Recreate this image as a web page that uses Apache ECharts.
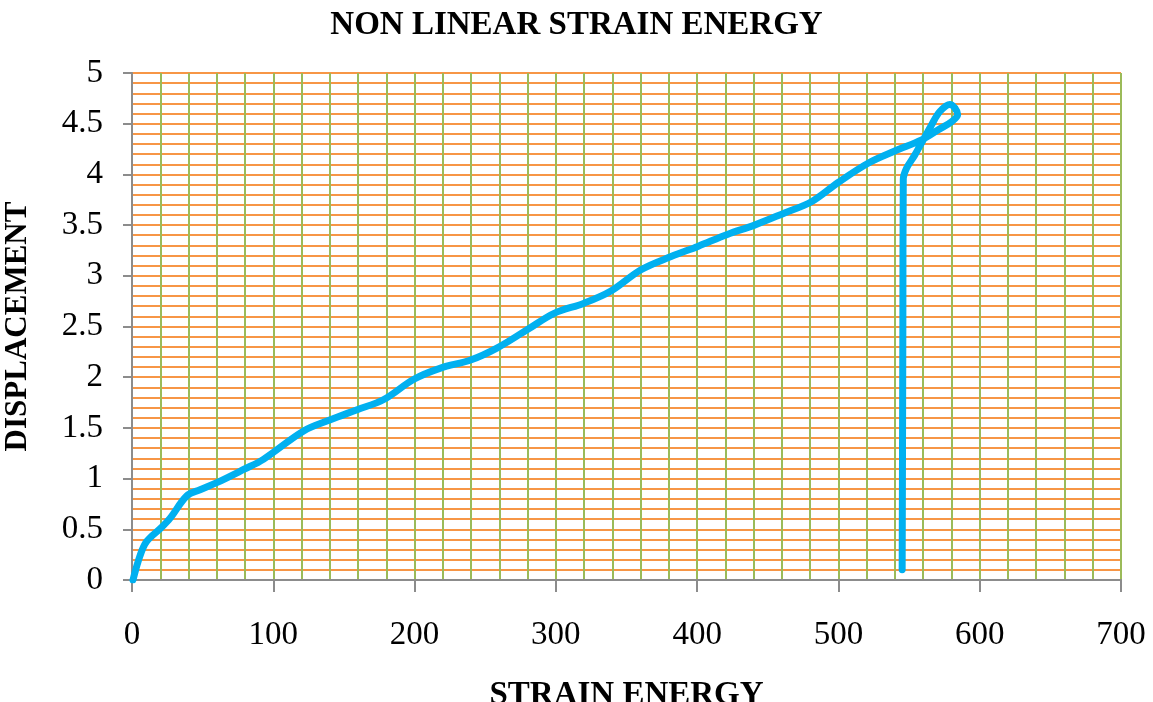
<!DOCTYPE html>
<html>
<head>
<meta charset="utf-8">
<script src="https://cdn.jsdelivr.net/npm/echarts@6/dist/echarts.min.js"></script>
<style>
html,body{margin:0;padding:0;background:#fff;}
#chart{width:1153px;height:702px;}
</style>
</head>
<body>
<div id="chart"></div>
<script>
const chartTitle = "NON LINEAR STRAIN ENERGY";
const xAxisTitle = "STRAIN ENERGY";
const yAxisTitle = "DISPLACEMENT";

const strainEnergy = [0.7, 5.7, 10.4, 21, 27, 38.8, 48.2, 60, 79, 93, 121.5, 140.4, 159.4, 178.2, 199.5, 218.4, 239.7, 258.6, 279.9, 298.8, 320, 339, 360.3, 381.6, 400.5, 421.8, 440.6, 461.9, 480.9, 499.8, 521, 539.9, 558.9, 570.7, 580.1, 584.4, 578.9, 571.8, 566, 560, 554, 548.2, 545.9, 545.6, 545.3, 545.1];
const displacement = [0.0, 0.24, 0.38, 0.52, 0.61, 0.83, 0.89, 0.96, 1.09, 1.19, 1.47, 1.58, 1.68, 1.78, 1.98, 2.09, 2.17, 2.29, 2.47, 2.63, 2.73, 2.85, 3.06, 3.19, 3.29, 3.41, 3.50, 3.62, 3.73, 3.92, 4.11, 4.23, 4.34, 4.44, 4.52, 4.59, 4.69, 4.62, 4.49, 4.34, 4.19, 4.06, 3.95, 2.5, 1.0, 0.1];

const xTicks = [0, 100, 200, 300, 400, 500, 600, 700];
const yTicks = [0, 0.5, 1, 1.5, 2, 2.5, 3, 3.5, 4, 4.5, 5];

const points = strainEnergy.map((x, i) => [x, displacement[i]]);

const chart = echarts.init(document.getElementById('chart'));
const serif = "'Liberation Serif', 'DejaVu Serif', serif";
chart.setOption({
  animation: false,
  backgroundColor: '#ffffff',
  title: {
    text: chartTitle,
    left: 'center',
    top: 4,
    textStyle: {fontFamily: serif, fontWeight: 'bold', fontSize: 33, color: '#000'}
  },
  grid: {left: 132, right: 32, top: 73, bottom: 122, containLabel: false, outerBoundsMode: 'none'},
  xAxis: {
    type: 'value',
    min: xTicks[0], max: xTicks[xTicks.length - 1], interval: 100,
    name: xAxisTitle,
    nameLocation: 'middle',
    nameGap: 99,
    nameTextStyle: {fontFamily: serif, fontWeight: 'bold', fontSize: 33, color: '#000'},
    axisLine: {show: true, lineStyle: {color: '#8c8c8c', width: 2}},
    axisTick: {show: true, length: 12, lineStyle: {color: '#8c8c8c', width: 2}},
    axisLabel: {margin: 39, fontFamily: serif, fontSize: 33, color: '#000'},
    splitLine: {show: true, lineStyle: {color: '#9bbb59', width: 2}},
    minorTick: {show: false, splitNumber: 5},
    minorSplitLine: {show: true, lineStyle: {color: '#9bbb59', width: 2}}
  },
  yAxis: {
    type: 'value',
    min: yTicks[0], max: yTicks[yTicks.length - 1], interval: 0.5,
    name: yAxisTitle,
    nameLocation: 'middle',
    nameGap: 99,
    nameRotate: 90,
    nameTextStyle: {fontFamily: serif, fontWeight: 'bold', fontSize: 31, color: '#000'},
    axisLine: {show: true, lineStyle: {color: '#8c8c8c', width: 2}},
    axisTick: {show: true, length: 9, lineStyle: {color: '#8c8c8c', width: 2}},
    axisLabel: {margin: 29, fontFamily: serif, fontSize: 33, color: '#000'},
    splitLine: {show: true, lineStyle: {color: '#f79646', width: 2}},
    minorTick: {show: false, splitNumber: 5},
    minorSplitLine: {show: true, lineStyle: {color: '#f79646', width: 2}}
  },
  series: [{
    type: 'line',
    data: points,
    smooth: 0.35,
    showSymbol: false,
    symbol: 'none',
    lineStyle: {color: '#00b0f0', width: 7, cap: 'round', join: 'round'}
  }]
});
</script>
</body>
</html>
